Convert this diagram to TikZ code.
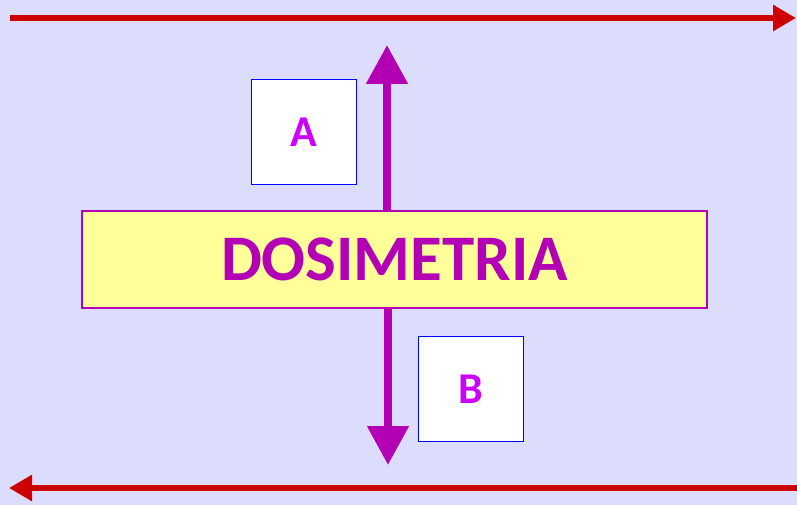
\documentclass[tikz,border=0pt]{standalone}
\usepackage{fontspec}
\setmainfont{Carlito}
\usetikzlibrary{arrows.meta}
\definecolor{bg}{HTML}{DCDCFC}
\definecolor{redarr}{HTML}{CC0000}
\definecolor{purparr}{HTML}{B400B4}
\definecolor{yel}{HTML}{FFFF99}
\definecolor{letter}{HTML}{CC00FF}
\begin{document}
\begin{tikzpicture}[x=1pt,y=-1pt,
  redline/.style={draw=redarr,line width=6pt,-{Triangle[length=23pt,width=25pt]}},
  purpline/.style={draw=purparr,line width=8pt,-{Triangle[length=39pt,width=40pt]}},
  letterbox/.style={draw=blue,line width=1.8pt,fill=white,minimum width=105pt,minimum height=105pt,inner sep=0pt,font=\bfseries\fontsize{44}{44}\selectfont,text=letter},
  mainbox/.style={draw=purparr,line width=1.3pt,fill=yel,minimum width=625pt,minimum height=97pt,inner sep=0pt,font=\bfseries\fontsize{65}{65}\selectfont,text=purparr}]
\fill[bg] (0,0) rectangle (797,505);
\useasboundingbox (0,0) rectangle (797,505);
\coordinate (tl) at (10,18);
\coordinate (tr) at (796,18);
\coordinate (br) at (797,488);
\coordinate (bl) at (9,488);
\draw[redline] (tl) -- (tr);
\draw[redline] (br) -- (bl);
\node[mainbox] (main) at (394.5,259.5) {DOSIMETRIA};
\coordinate (uptip) at (387,45);
\coordinate (downtip) at (388,465);
\draw[purpline] (main.north -| uptip) -- (uptip);
\draw[purpline] (main.south -| downtip) -- (downtip);
\node[letterbox] (A) at (304,132) {A};
\node[letterbox] (B) at (471,389) {B};
\end{tikzpicture}
\end{document}
